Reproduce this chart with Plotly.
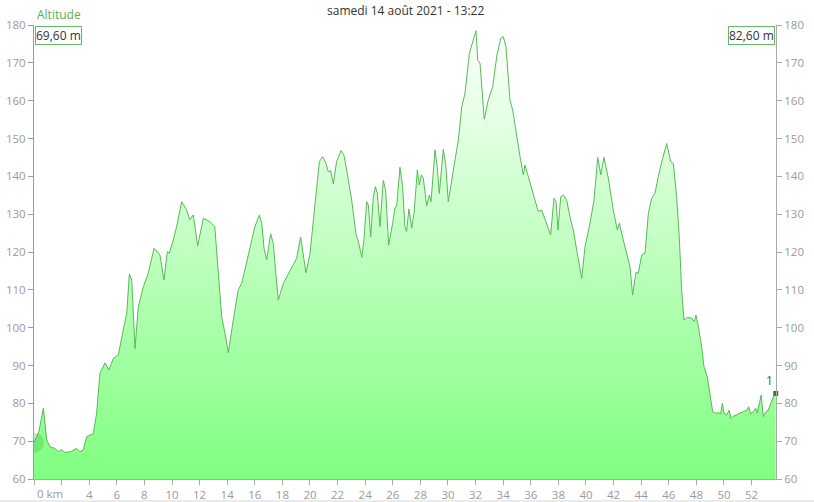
import plotly.graph_objects as go

# Distance (km) and altitude (m)
km = [0.0, 0.35, 0.68, 0.92, 1.16, 1.52, 1.76, 2.0, 2.25, 2.7, 3.09, 3.33, 3.57, 3.82, 4.06, 4.3,
      4.54, 4.78, 5.14, 5.43, 5.75, 6.11, 6.47, 6.72, 6.91, 7.08, 7.32, 7.56, 7.92, 8.28, 8.7,
      9.13, 9.42, 9.66, 9.81, 10.1, 10.39, 10.7, 11.06, 11.3, 11.54, 11.86, 12.27, 12.75, 13.1,
      13.6, 13.84, 14.08, 14.44, 14.8, 15.05, 15.53, 16.01, 16.33, 16.5, 16.67, 16.86, 17.15,
      17.34, 17.46, 17.7, 18.07, 18.67, 19.03, 19.32, 19.47, 19.71, 20.0, 20.36, 20.68, 20.92,
      21.16, 21.33, 21.5, 21.69, 21.93, 22.25, 22.46, 22.7, 23.02, 23.33, 23.57, 23.75, 23.91,
      24.11, 24.23, 24.4, 24.59, 24.74, 24.88, 25.07, 25.31, 25.48, 25.7, 25.99, 26.16, 26.28,
      26.52, 26.71, 26.88, 27.0, 27.17, 27.37, 27.54, 27.78, 27.92, 28.07, 28.21, 28.46, 28.65,
      28.77, 29.06, 29.22, 29.37, 29.66, 29.83, 30.02, 30.27, 30.51, 30.75, 31.0, 31.23, 31.55,
      31.83, 32.03, 32.15, 32.32, 32.63, 32.92, 33.24, 33.53, 33.82, 34.01, 34.2, 34.49, 34.69,
      34.93, 35.22, 35.46, 35.58, 35.82, 36.18, 36.54, 36.79, 37.15, 37.44, 37.68, 37.83, 37.97,
      38.17, 38.36, 38.6, 38.84, 39.08, 39.37, 39.69, 39.93, 40.29, 40.58, 40.85, 41.07, 41.3,
      41.62, 41.98, 42.27, 42.42, 42.7, 43.19, 43.38, 43.62, 43.79, 44.04, 44.28, 44.52, 44.76,
      45.0, 45.24, 45.49, 45.85, 46.14, 46.33, 46.57, 46.76, 46.93, 47.1, 47.34, 47.66, 47.85,
      47.97, 48.14, 48.38, 48.55, 48.79, 48.99, 49.18, 49.35, 49.59, 49.76, 49.88, 50.0, 50.19,
      50.38, 50.51, 50.67, 50.92, 51.16, 51.4, 51.64, 51.79, 51.93, 52.12, 52.3, 52.41, 52.56,
      52.7, 52.85, 53.04, 53.21, 53.38, 53.57, 53.75]
alt = [69.6, 72.5, 78.7, 70.3, 68.5, 68.1, 67.2, 67.8, 67.0, 67.3, 68.1, 67.2, 67.7, 71.2, 71.6, 72.0,
       77.4, 87.9, 90.7, 88.8, 91.9, 92.8, 99.4, 103.8, 114.2, 112.6, 94.5, 105.5, 110.8, 114.4, 121.0,
       119.2, 112.6, 120.1, 119.7, 123.2, 127.6, 133.3, 131.1, 128.5, 129.8, 121.6, 128.9, 128.0, 126.7,
       102.9, 98.5, 93.4, 102.0, 110.0, 111.7, 118.8, 126.7, 129.8, 127.6, 121.0, 117.9, 124.8,
       122.3, 117.0, 107.3, 111.7, 116.1, 118.3, 124.0, 120.5, 114.5, 119.6, 132.9, 143.9, 145.2,
       143.4, 141.2, 141.5, 138.0, 143.9, 146.8, 145.6, 140.8, 133.7, 124.9, 121.8, 118.6, 123.2,
       133.3, 132.4, 124.0, 134.6, 137.3, 135.5, 126.7, 138.9, 136.4, 121.8, 127.6, 131.8, 132.0,
       142.4, 137.3, 126.7, 125.4, 131.4, 126.3, 130.2, 141.7, 137.7, 140.4, 139.5, 132.2, 135.1,
       133.3, 147.0, 142.5, 135.5, 147.1, 143.4, 133.3, 139.5, 144.3, 149.6, 158.4, 161.9, 172.5,
       176.0, 178.5, 170.7, 169.9, 155.1, 160.2, 163.7, 171.6, 176.5, 176.9, 174.3, 160.2, 157.5,
       151.4, 145.2, 140.4, 143.0, 139.9, 135.5, 130.7, 131.1, 127.6, 124.5, 134.2, 133.3, 125.8,
       134.6, 135.1, 133.7, 129.3, 125.8, 119.6, 113.0, 121.4, 127.6, 133.7, 145.0, 140.4, 145.0,
       139.5, 131.1, 125.8, 127.6, 123.2, 116.1, 108.6, 114.6, 114.4, 119.2, 119.7, 130.2, 134.2,
       135.5, 139.9, 143.9, 148.7, 143.9, 143.4, 134.6, 124.0, 110.0, 102.0, 102.7, 102.5, 101.6,
       103.3, 100.3, 95.0, 89.7, 87.0, 81.7, 77.8, 77.4, 77.5, 77.2, 80.0, 77.4, 76.9,
       78.2, 76.0, 76.6, 76.9, 77.4, 77.8, 78.2, 79.1, 77.2, 77.8, 78.7, 77.4, 79.6,
       82.2, 76.5, 77.8, 78.2, 79.8, 81.7, 82.6]

x_ticks = list(range(0, 54, 2))
x_ticktext = ["", ""] + [str(v) for v in range(4, 54, 2)]
y_ticks = list(range(60, 190, 10))

title_text = "samedi 14 août 2021 - 13:22"
series_name = "Altitude"
start_label = "69,60 m"
end_label = "82,60 m"

FONT = "Open Sans"
GREY = "#9a9a9a"

fig = go.Figure()
fig.add_trace(go.Scatter(
    x=km, y=alt, mode="lines", name=series_name,
    line=dict(color="#55bb55", width=1),
    fill="tozeroy",
    fillgradient=dict(type="vertical", start=60, stop=180,
                      colorscale=[[0, "#80ff80"], [1, "#ffffff"]]),
    hoverinfo="skip", showlegend=False,
))
# start blob
fig.add_trace(go.Scatter(
    x=[km[0]], y=[alt[0]], mode="markers",
    marker=dict(size=20, color="rgba(60,170,60,0.28)", line=dict(width=0)),
    showlegend=False, hoverinfo="skip",
))
# end marker
fig.add_trace(go.Scatter(
    x=[km[-1]], y=[alt[-1]], mode="markers",
    marker=dict(size=5, symbol="square", color="#3c7a3c"),
    showlegend=False, hoverinfo="skip", cliponaxis=False,
))
# invisible trace for right axis
fig.add_trace(go.Scatter(x=[km[0]], y=[alt[0]], yaxis="y2", mode="markers",
                         marker=dict(opacity=0), showlegend=False, hoverinfo="skip"))

axis_font = dict(family=FONT, size=11.5, color=GREY)
fig.update_layout(
    width=814, height=502,
    margin=dict(l=34, r=38, t=25, b=23, autoexpand=False),
    paper_bgcolor="white", plot_bgcolor="white",
    font=dict(family=FONT, size=12, color="#333"),
    xaxis=dict(range=[0, 53.77], tickvals=x_ticks, ticktext=x_ticktext,
               ticks="outside", ticklen=5, tickcolor="#aaaaaa", automargin=False,
               showline=True, linecolor="#aaaaaa", linewidth=1,
               showgrid=False, zeroline=False, tickfont=axis_font),
    yaxis=dict(range=[60, 180], tickvals=y_ticks, ticks="outside", ticklen=5,
               tickcolor="#8aa88a", showline=True, linecolor="#8aa88a", linewidth=1,
               showgrid=False, zeroline=False, tickfont=axis_font, automargin=False),
    yaxis2=dict(range=[60, 180], tickvals=y_ticks, ticks="outside", ticklen=5,
                tickcolor="#aaaaaa", showline=True, linecolor="#aaaaaa", linewidth=1,
                showgrid=False, zeroline=False, tickfont=axis_font, automargin=False,
                overlaying="y", side="right", anchor="x"),
    annotations=[
        dict(text=title_text, x=0.5, y=1, xref="paper", yref="paper",
             xanchor="center", yanchor="bottom", yshift=4, showarrow=False,
             font=dict(family=FONT, size=12, color="#333")),
        dict(text=series_name, x=0, y=1, xref="paper", yref="paper",
             xanchor="left", yanchor="bottom", xshift=1, yshift=0, showarrow=False,
             font=dict(family=FONT, size=12, color="#55b055")),
        dict(text=start_label, x=0, y=1, xref="paper", yref="paper",
             xanchor="left", yanchor="top", xshift=1, yshift=-1, showarrow=False,
             bordercolor="#66bb66", borderwidth=1, borderpad=0, bgcolor="white",
             font=dict(family=FONT, size=12, color="#333")),
        dict(text=end_label, x=1, y=1, xref="paper", yref="paper",
             xanchor="right", yanchor="top", xshift=-1, yshift=-1, showarrow=False,
             bordercolor="#66bb66", borderwidth=1, borderpad=0, bgcolor="white",
             font=dict(family=FONT, size=12, color="#333")),
        dict(text="1", x=km[-1], y=alt[-1], xref="x", yref="y",
             xanchor="right", yanchor="bottom", xshift=-1, yshift=3, showarrow=False,
             font=dict(family=FONT, size=12, color="#555")),
        dict(text="0 km", x=0, y=0, xref="x", yref="paper",
             xanchor="left", yanchor="top", xshift=1, yshift=-5, showarrow=False,
             font=axis_font),
    ],
    shapes=[dict(type="rect", xref="paper", yref="paper",
                 x0=-0.05, x1=1.06, y0=-0.046, y1=-0.06,
                 fillcolor="#ebebeb", line=dict(width=0), layer="below")],
)

fig.write_html("out.html", config={"displayModeBar": False},
               post_script="document.body.style.margin='0';document.body.style.padding='0';")
